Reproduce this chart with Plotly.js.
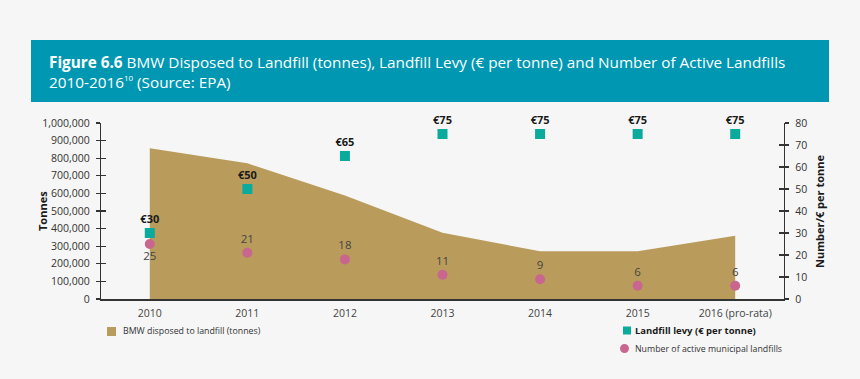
<!DOCTYPE html>
<html>
<head>
<meta charset="utf-8">
<script src="https://cdn.plot.ly/plotly-3.0.1.min.js"></script>
<style>
html,body{margin:0;padding:0;background:#f6f6f6;}
#chart{width:860px;height:379px;}
</style>
</head>
<body>
<div id="chart"></div>
<script>
// ---- Data ----
const years = ['2010','2011','2012','2013','2014','2015','2016 (pro-rata)'];
const bmwTonnes = [856000, 771000, 588000, 377000, 271000, 272000, 360000];
const levyEuro = [30, 50, 65, 75, 75, 75, 75];
const activeLandfills = [25, 21, 18, 11, 9, 6, 6];
const leftTicks = [0,100000,200000,300000,400000,500000,600000,700000,800000,900000,1000000];
const rightTicks = [0,10,20,30,40,50,60,70,80];

const FONT = 'Open Sans, Noto Sans, sans-serif';
const W = 860, H = 379;
const L = 101, R = 784, T = 123, B = 299;
const px = x => (x - L) / (R - L);
const py = y => (B - y) / (B - T);

const traces = [
  {
    x: years, y: bmwTonnes, type: 'scatter', mode: 'lines',
    fill: 'tozeroy', fillcolor: '#b99c5b', line: {width: 0, color: '#b99c5b'},
    yaxis: 'y', hoverinfo: 'skip', showlegend: false
  },
  {
    x: years, y: levyEuro, type: 'scatter', mode: 'markers+text',
    marker: {symbol: 'square', size: 10, color: '#0aab9c'},
    text: levyEuro.map(v => '<b>€' + v + '</b>'),
    textposition: 'top center',
    textfont: {family: FONT, size: 11, color: '#1a1a1a'},
    yaxis: 'y2', cliponaxis: false, showlegend: false
  },
  {
    x: years, y: activeLandfills, type: 'scatter', mode: 'markers+text',
    marker: {symbol: 'circle', size: 10, color: '#c9668f'},
    text: activeLandfills.map(String),
    textposition: activeLandfills.map((v, i) => i === 0 ? 'bottom center' : 'top center'),
    textfont: {family: FONT, size: 11.5, color: '#444'},
    yaxis: 'y2', cliponaxis: false, showlegend: false
  }
];

const axisCommon = {
  showgrid: false, zeroline: false, showline: true, linecolor: '#333', linewidth: 1.2,
  tickfont: {family: FONT, size: 10.5, color: '#333'}, tickcolor: '#333', ticklen: 4, tickwidth: 1.2
};

const layout = {
  width: W, height: H,
  margin: {l: L, r: W - R, t: T, b: H - B, pad: 0},
  paper_bgcolor: '#f6f6f6', plot_bgcolor: '#f6f6f6',
  font: {family: FONT, color: '#333'},
  showlegend: false,
  xaxis: {
    type: 'category', categoryorder: 'array', categoryarray: years,
    range: [-0.5, 6.5], showgrid: false, zeroline: false,
    showline: true, linecolor: '#333', linewidth: 1.5, ticks: '',
    ticklabelstandoff: 4,
    tickfont: {family: FONT, size: 10.5, color: '#444'}
  },
  yaxis: Object.assign({}, axisCommon, {
    range: [0, 1000000], tickvals: leftTicks, tickformat: ',d', ticks: 'outside',
    ticklabelstandoff: 4
  }),
  yaxis2: Object.assign({}, axisCommon, {
    range: [0, 80], tickvals: rightTicks, overlaying: 'y', side: 'right', ticks: 'outside',
    ticklabelstandoff: 4
  }),
  yaxis3: {
    range: [0, 1000000], tickvals: leftTicks, overlaying: 'y', side: 'left', ticks: 'inside',
    ticklen: 5, tickwidth: 1.2, tickcolor: '#333', showticklabels: false,
    showgrid: false, zeroline: false, showline: false
  },
  yaxis4: {
    range: [0, 80], tickvals: rightTicks, overlaying: 'y', side: 'right', ticks: 'inside',
    ticklen: 5, tickwidth: 1.2, tickcolor: '#333', showticklabels: false,
    showgrid: false, zeroline: false, showline: false
  },
  shapes: [
    {type: 'rect', xref: 'paper', yref: 'paper', x0: px(31), x1: px(829), y0: py(102), y1: py(40),
     fillcolor: '#0097b2', line: {width: 0}, layer: 'below'},
    {type: 'rect', xref: 'paper', yref: 'paper', x0: px(107), x1: px(116), y0: py(336), y1: py(327),
     fillcolor: '#b99c5b', line: {width: 0}},
    {type: 'rect', xref: 'paper', yref: 'paper', x0: px(623), x1: px(631), y0: py(334.5), y1: py(326.5),
     fillcolor: '#0aab9c', line: {width: 0}},
    {type: 'circle', xref: 'paper', yref: 'paper', x0: px(620), x1: px(629), y0: py(353), y1: py(344),
     fillcolor: '#c9668f', line: {width: 0}}
  ],
  annotations: [
    {xref: 'paper', yref: 'paper', x: px(47), y: py(72), xanchor: 'left', yanchor: 'middle', align: 'left',
     showarrow: false,
     text: '<b>Figure 6.6</b> BMW Disposed to Landfill (tonnes), Landfill Levy (€ per tonne) and Number of Active Landfills<br>2010-2016<sup><span style="font-size:8px">10</span></sup> (Source: EPA)',
     font: {family: FONT, size: 15.3, color: '#ffffff'}},
    {xref: 'paper', yref: 'paper', x: px(42), y: py(211), xanchor: 'center', yanchor: 'middle',
     textangle: -90, showarrow: false,
     text: '<b>Tonnes</b>', font: {family: FONT, size: 11, color: '#1a1a1a'}},
    {xref: 'paper', yref: 'paper', x: px(819), y: py(212), xanchor: 'center', yanchor: 'middle',
     textangle: -90, showarrow: false,
     text: '<b>Number/€ per tonne</b>', font: {family: FONT, size: 11, color: '#1a1a1a'}},
    {xref: 'paper', yref: 'paper', x: px(121), y: py(331), xanchor: 'left', yanchor: 'middle', showarrow: false,
     text: 'BMW disposed to landfill (tonnes)', font: {family: FONT, size: 8.8, color: '#333'}},
    {xref: 'paper', yref: 'paper', x: px(633), y: py(330.5), xanchor: 'left', yanchor: 'middle', showarrow: false,
     text: '<b>Landfill levy (€ per tonne)</b>', font: {family: FONT, size: 9.5, color: '#1a1a1a'}},
    {xref: 'paper', yref: 'paper', x: px(633), y: py(349), xanchor: 'left', yanchor: 'middle', showarrow: false,
     text: 'Number of active municipal landfills', font: {family: FONT, size: 8.8, color: '#333'}}
  ]
};

// empty traces to activate the crossing-tick axes
traces.push({x: [years[0]], y: [null], yaxis: 'y3', type: 'scatter', mode: 'markers', showlegend: false, hoverinfo: 'skip'});
traces.push({x: [years[0]], y: [null], yaxis: 'y4', type: 'scatter', mode: 'markers', showlegend: false, hoverinfo: 'skip'});

Plotly.newPlot('chart', traces, layout, {staticPlot: true, displayModeBar: false});
</script>
</body>
</html>
